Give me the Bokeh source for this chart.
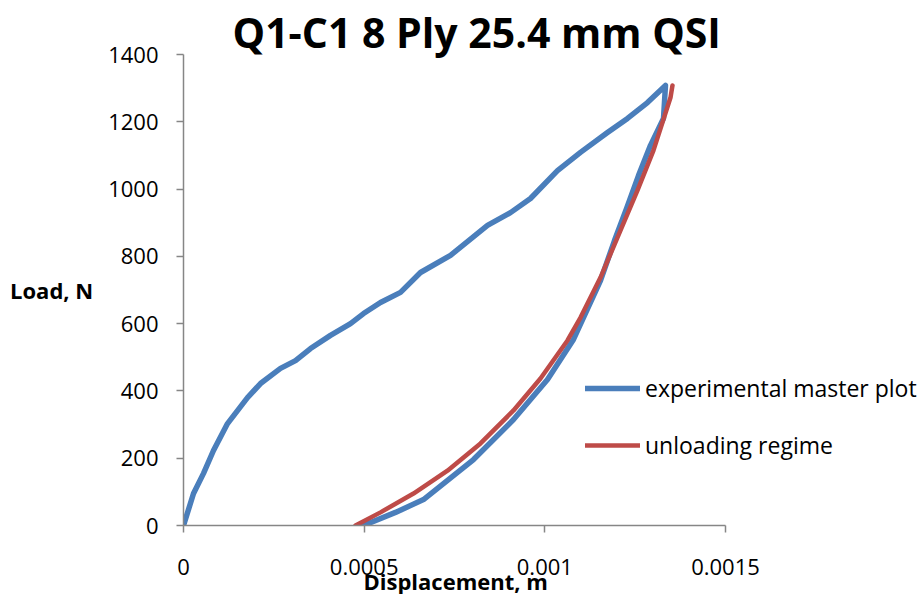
from bokeh.plotting import figure
from bokeh.models import Legend, LegendItem, Range1d, FixedTicker, Title
from bokeh.embed import file_html
from bokeh.resources import INLINE

# experimental master plot (loading then unloading)
exp_disp = [0.0, 2.77e-5, 5.54e-5, 8.30e-5, 1.218e-4, 1.771e-4, 2.131e-4, 2.684e-4,
            3.100e-4, 3.515e-4, 4.068e-4, 4.622e-4, 4.982e-4, 5.452e-4, 6.006e-4,
            6.559e-4, 7.389e-4, 8.413e-4, 9.050e-4, 9.603e-4, 1.0350e-3, 1.0987e-3,
            1.1734e-3, 1.2288e-3, 1.2841e-3, 1.3339e-3,
            1.3284e-3, 1.2924e-3, 1.2592e-3, 1.2260e-3, 1.1928e-3, 1.1540e-3,
            1.0793e-3, 1.0074e-3, 9.133e-4, 8.026e-4, 6.642e-4, 5.867e-4, 4.98e-4]
exp_load = [0, 95, 155, 223, 303, 380, 422, 467,
            490, 526, 565, 600, 630, 663, 693,
            752, 803, 892, 930, 972, 1055, 1109,
            1168, 1210, 1257, 1308,
            1210, 1130, 1040, 942, 847, 728,
            553, 434, 315, 196, 77, 39, 0]

# unloading regime fit
unl_disp = [4.760e-4, 5.452e-4, 6.365e-4, 7.306e-4, 8.220e-4, 9.133e-4, 9.880e-4,
            1.0627e-3, 1.0987e-3, 1.1540e-3, 1.2094e-3, 1.2564e-3, 1.3007e-3,
            1.3478e-3, 1.3533e-3]
unl_load = [0, 39, 95, 163, 244, 342, 437, 550, 618, 737, 877, 996, 1115, 1272, 1308]

x_ticks = [0, 0.0005, 0.001, 0.0015]
x_tick_labels = {0: "0", 0.0005: "0.0005", 0.001: "0.001", 0.0015: "0.0015"}
y_ticks = [0, 200, 400, 600, 800, 1000, 1200, 1400]
x_axis_max = 0.0015
y_axis_max = 1400

title_text = "Q1-C1 8 Ply 25.4 mm QSI"
x_label = "Displacement, m"
y_label = "Load, N"
series_names = ["experimental master plot", "unloading regime"]
BLUE = "#4A7EBB"
RED = "#BE4B48"
AXIS = "#868686"
FONT = "Open Sans"

W, H = 920, 594
LEFT, TOP, BOTTOM = 183, 54, H - 525
axis_px = 542                      # pixel length of the 0..0.0015 axis
frame_w = W - LEFT                 # frame extends right so the legend fits
x_end = x_axis_max * frame_w / axis_px

p = figure(width=W, height=H, output_backend="svg", toolbar_location=None,
           x_range=Range1d(0, x_end), y_range=Range1d(0, y_axis_max),
           min_border_left=LEFT, min_border_right=0, min_border_top=TOP,
           min_border_bottom=BOTTOM)
p.outline_line_color = None
p.xgrid.visible = False
p.ygrid.visible = False

p.title.text = title_text
p.title.text_font = FONT
p.title.text_font_style = "bold"
p.title.text_font_size = "41px"
p.title.text_color = "#000000"
p.title.align = "left"
p.title.offset = 49
p.title.standoff = -14
p.title.vertical_align = "top"

r1 = p.line(exp_disp, exp_load, line_color=BLUE, line_width=5.5,
            line_join="round", line_cap="round")
r2 = p.line(unl_disp, unl_load, line_color=RED, line_width=4.5,
            line_join="round", line_cap="round")

for ax in (p.xaxis[0], p.yaxis[0]):
    ax.axis_line_color = AXIS
    ax.axis_line_width = 1.5
    ax.major_tick_line_color = AXIS
    ax.major_tick_line_width = 1.5
    ax.major_tick_in = 0
    ax.major_tick_out = 7
    ax.minor_tick_line_color = None
    ax.major_label_text_font = FONT
    ax.major_label_text_font_size = "22px"
    ax.major_label_text_color = "#000000"
    ax.axis_label_text_font = FONT
    ax.axis_label_text_font_style = "bold"
    ax.axis_label_text_font_size = "22px"
    ax.axis_label_text_color = "#000000"

p.xaxis.ticker = FixedTicker(ticks=x_ticks)
p.xaxis.bounds = (0, x_axis_max)
p.xaxis.major_label_overrides = x_tick_labels
p.xaxis.major_label_standoff = 26

# x-axis title, placed under the 0..0.0015 span (the frame extends further right)
p.add_layout(Title(text=x_label, text_font=FONT, text_font_style="bold",
                   text_font_size="22px", text_color="#000000",
                   align="left", offset=180, standoff=-24,
                   vertical_align="top"),
             "below")

p.yaxis.ticker = FixedTicker(ticks=y_ticks)
p.yaxis.bounds = (0, y_axis_max)
p.yaxis.major_label_standoff = 18
p.yaxis.axis_label = y_label
p.yaxis.axis_label_orientation = "horizontal"
p.yaxis.axis_label_standoff = 12

legend = Legend(items=[LegendItem(label=series_names[0], renderers=[r1]),
                       LegendItem(label=series_names[1], renderers=[r2])],
                location=(402, 64), orientation="vertical",
                glyph_width=55, glyph_height=20, label_height=20,
                label_standoff=5, spacing=25, padding=0, margin=0,
                border_line_color=None, background_fill_alpha=0,
                label_text_font=FONT, label_text_font_size="23px",
                label_text_color="#000000")
p.add_layout(legend)

open("out.html", "w").write(file_html(p, INLINE))
